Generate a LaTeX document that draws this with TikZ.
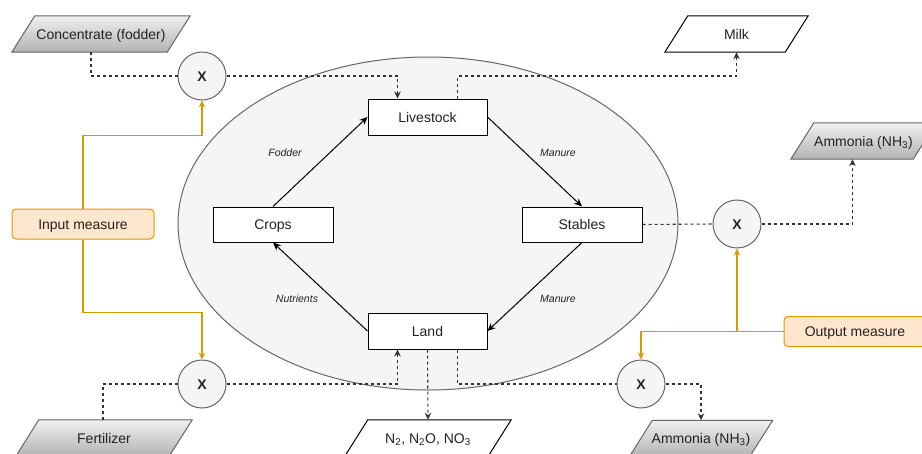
\documentclass[tikz,border=0pt]{standalone}
\usepackage{fontspec}
\setmainfont{Liberation Sans}
\usetikzlibrary{calc,arrows.meta,backgrounds}
\definecolor{txt}{HTML}{222222}
\definecolor{dash}{HTML}{333333}
\definecolor{gborder}{HTML}{666666}
\definecolor{ellfill}{HTML}{F5F5F5}
\definecolor{orfill}{HTML}{FFE6CC}
\definecolor{ordraw}{HTML}{D79B00}
\newcommand{\paragram}[2]{\path[#2] ($(#1.north west)+(11.5,0)$) -- ($(#1.north east)+(11.5,0)$) -- ($(#1.south east)+(-11.5,0)$) -- ($(#1.south west)+(-11.5,0)$) -- cycle;}
\tikzset{
  main/.style={font=\fontsize{14}{16}\selectfont, text=txt, text height=10pt, text depth=0pt},
  boxnode/.style={main, draw=black, fill=white, line width=1pt, minimum width=119pt, minimum height=36pt, inner sep=0pt},
  paranode/.style={main, minimum height=36pt, inner sep=0pt},
  gradfill/.style={top color=black!6, bottom color=black!30, draw=gborder, line width=1pt},
  whitefill/.style={fill=white, draw=black, line width=1pt},
  mult/.style={main, circle, draw=gborder, fill=ellfill, line width=1pt, minimum size=48pt, inner sep=0pt, font=\fontsize{14}{16}\selectfont\bfseries},
  measure/.style={main, draw=ordraw, fill=orfill, rounded corners=4pt, line width=1pt, minimum width=142pt, minimum height=30pt, inner sep=0pt},
  lbl/.style={font=\fontsize{10.5}{12}\selectfont\itshape, text=txt},
  flow/.style={draw=black, line width=1pt, -{Stealth[length=8pt,width=7pt]}},
  dline/.style={draw=dash, line width=1.1pt, dash pattern=on 3pt off 3pt},
  darr/.style={dline, -{Stealth[length=7pt,width=6.5pt,fill=black]}},
  oarr/.style={draw=ordraw, line width=1.2pt, -{Stealth[length=7pt,width=6.5pt]}},
}
\begin{document}
\begin{tikzpicture}[x=1pt,y=-1pt]
\clip (0,0) rectangle (922,453);
% ellipse
\path[fill=ellfill, draw=gborder, line width=1pt] (428,223.5) ellipse [x radius=250, y radius=166.5];

% parallelogram text nodes
\node[paranode, minimum width=155pt] (conc) at (101,34) {Concentrate (fodder)};
\node[paranode, minimum width=120pt] (milk) at (736.5,34) {Milk};
\node[paranode, minimum width=122pt] (amtop) at (863.5,141) {Ammonia (NH\textsubscript{3})};
\node[paranode, minimum width=153pt] (fert) at (104,438) {Fertilizer};
\node[paranode, minimum width=143pt] (n2) at (428,438) {N\textsubscript{2}, N\textsubscript{2}O, NO\textsubscript{3}};
\node[paranode, minimum width=120pt] (ambot) at (701,438.5) {Ammonia (NH\textsubscript{3})};
\begin{scope}[on background layer]
  \paragram{conc}{gradfill}
  \paragram{milk}{whitefill}
  \paragram{amtop}{gradfill}
  \paragram{fert}{gradfill}
  \paragram{n2}{whitefill}
  \paragram{ambot}{gradfill}
\end{scope}

% boxes
\node[boxnode] (live) at (427.5,117) {Livestock};
\node[boxnode, minimum width=120pt, minimum height=35pt] (crops) at (273,224.5) {Crops};
\node[boxnode, minimum width=120pt, minimum height=35pt] (stab) at (582,224.5) {Stables};
\node[boxnode] (land) at (427.5,331) {Land};

% multipliers
\node[mult] (x1) at (202,76) {X};
\node[mult] (x2) at (737,224) {X};
\node[mult] (x3) at (202,384) {X};
\node[mult] (x4) at (641,384) {X};

% measures
\node[measure] (inp) at (83,224) {Input measure};
\node[measure] (outm) at (855,331.5) {Output measure};

% cycle arrows
\draw[flow] (crops.north) -- (live.west);
\draw[flow] (live.east) -- (stab.north);
\draw[flow] (stab.south) -- (land.east);
\draw[flow] (land.west) -- (crops.south);
\node[lbl] (lf) at (285,153) {Fodder};
\node[lbl] (lm1) at (558,153) {Manure};
\node[lbl] (ln) at (297,299) {Nutrients};
\node[lbl] (lm2) at (558,299) {Manure};

% dashed flows
\coordinate (concout) at ($(conc.south)+(-10,0)$);
\coordinate (livein) at ($(live.north west)+(30,0)$);
\coordinate (liveout) at ($(live.north east)+(-30,0)$);
\coordinate (amtopin) at ($(amtop.south)+(-11,0)$);
\coordinate (fertout) at ($(fert.north)+(-1,0)$);
\coordinate (landin) at ($(land.south west)+(30,0)$);
\coordinate (landout) at ($(land.south east)+(-30,0)$);

\draw[dline] (concout) |- (x1.west);
\draw[darr] (x1.east) -| (livein);
\draw[darr] (liveout) -- (liveout |- x1) -| (milk.south);
\draw[dline] (stab.east) -- (x2.west);
\draw[darr] (x2.east) -| (amtopin);
\draw[darr] (land.south) -- (n2.north);
\draw[dline] (fertout) |- (x3.west);
\draw[darr] (x3.east) -| (landin);
\draw[dline] (landout) |- (x4.west);
\draw[darr] (x4.east) -| (ambot.north);

% measure links
\draw[oarr] (inp.north) |- ($(x1.south)+(0,35)$) -- (x1.south);
\draw[oarr] (inp.south) |- ($(x3.north)+(0,-47)$) -- (x3.north);
\draw[oarr] (outm.west) -| (x2.south);
\draw[oarr] (outm.west) -| (x4.north);
\end{tikzpicture}
\end{document}
